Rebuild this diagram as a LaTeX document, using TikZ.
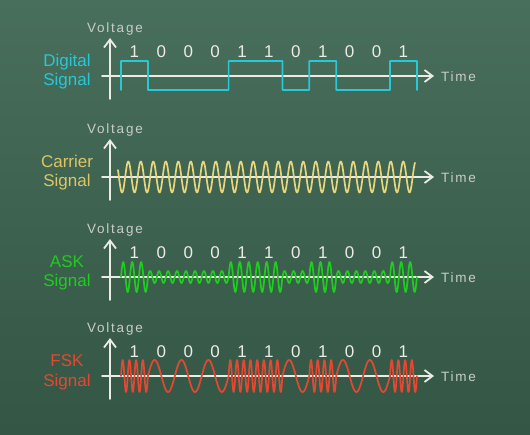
\documentclass[tikz,border=0pt]{standalone}
\usepackage{fontspec}
\setmainfont{Liberation Sans}
\newfontfamily\spacedfont[LetterSpace=13]{Liberation Sans}
\usetikzlibrary{arrows.meta}
\definecolor{boardtop}{RGB}{72,110,92}
\definecolor{boardbot}{RGB}{52,86,68}
\definecolor{chalk}{RGB}{236,236,228}
\definecolor{dimchalk}{RGB}{200,205,200}
\definecolor{digicol}{RGB}{40,200,215}
\definecolor{carrcol}{RGB}{232,214,125}
\definecolor{carrlbl}{RGB}{220,198,100}
\definecolor{askcol}{RGB}{30,205,30}
\definecolor{fskcol}{RGB}{228,72,50}

\begin{document}
\begin{tikzpicture}[x=1pt, y=-1pt, line join=round, line cap=round,
  axis/.style={chalk, line width=1.8pt, -{Straight Barb[length=8pt,width=12pt]}},
  wave/.style={line width=1.7pt},
  bitlbl/.style={chalk, font=\fontsize{17}{17}\selectfont},
  siglbl/.style={font=\fontsize{17}{19.5}\selectfont, align=center},
  axname/.style={dimchalk, font=\spacedfont\fontsize{13.5}{14}\selectfont}]
  % chalkboard
  \shade[top color=boardtop, bottom color=boardbot] (0,0) rectangle (530,434);
  \useasboundingbox (0,0) rectangle (530,434);
  % axes of the four panels
  \foreach \p/\yy in {1/76, 2/177, 3/277, 4/376} {
    \coordinate (vb\p) at (110,\yy+23);
    \coordinate (vt\p) at (110,\yy-38);
    \coordinate (ta\p) at (102,\yy);
    \coordinate (tb\p) at (434,\yy);
    \draw[axis] (vb\p) -- (vt\p);
    \draw[axis] (ta\p) -- (tb\p);
    \node[axname] (volt\p) at (115,\yy-47) {Voltage};
    \node[axname, anchor=west, inner sep=0pt] (time\p) at (441,\yy+1) {Time};
  }
  % bit values
  \foreach \p/\yy in {1/52, 3/253, 4/352}
    \foreach \b [count=\i from 0] in {1,0,0,0,1,1,0,1,0,0,1}
      \node[bitlbl] (bit\p-\i) at ({121+(\i+0.5)*26.9},\yy) {\b};
  % digital signal
  \draw[wave, digicol] (121,90) \foreach \b [count=\i from 0] in {1,0,0,0,1,1,0,1,0,0,1}
    { -- ({121+\i*26.9},{90-29*\b}) -- ({121+(\i+1)*26.9},{90-29*\b}) } -- (417,90);
  \node[siglbl, digicol] (digi) at (67,71.5) {Digital\\Signal};
  % carrier
  \draw[wave, carrcol] plot[domain=118:415, samples=700] (\x,{177-15.5*cos(28.8*(\x-128.3))});
  \node[siglbl, carrlbl] (carr) at (67,172.5) {Carrier\\Signal};
  % ASK: 3 cycles per bit, amplitude by bit
  \foreach \b [count=\i from 0] in {1,0,0,0,1,1,0,1,0,0,1} {
    \pgfmathsetmacro\xa{121+\i*26.9}
    \pgfmathsetmacro\xb{\xa+26.9}
    \pgfmathsetmacro\amp{\b==1 ? 15 : 6}
    \draw[wave, askcol] plot[domain=\xa:\xb, samples=80] (\x,{277-\amp*sin((\x-\xa)/26.9*1080)});
  }
  \node[siglbl, askcol] (ask) at (67,273) {ASK\\Signal};
  % FSK: 4 cycles for 1, one cycle for 0
  \foreach \b [count=\i from 0] in {1,0,0,0,1,1,0,1,0,0,1} {
    \pgfmathsetmacro\xa{121+\i*26.9}
    \pgfmathsetmacro\xb{\xa+26.9}
    \pgfmathsetmacro\cyc{\b==1 ? 4 : 1}
    \draw[wave, fskcol] plot[domain=\xa:\xb, samples=80] (\x,{376-16*sin((\x-\xa)/26.9*360*\cyc)});
  }
  \node[siglbl, fskcol] (fsk) at (67,372.5) {FSK\\Signal};
\end{tikzpicture}
\end{document}
